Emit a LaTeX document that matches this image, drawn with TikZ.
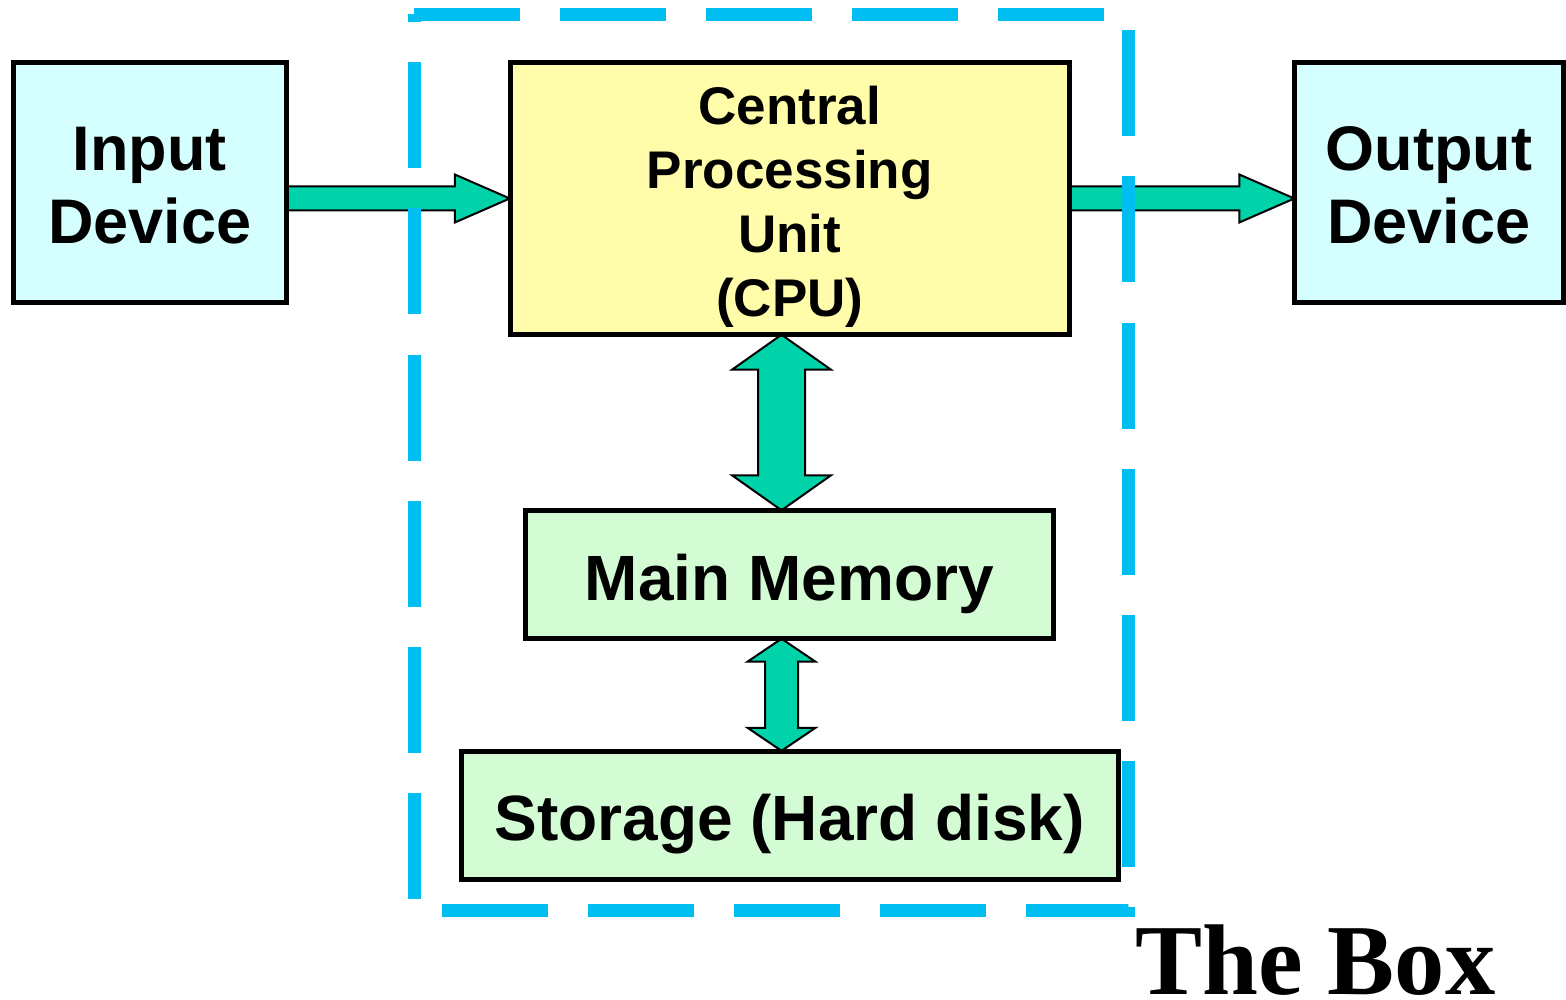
\documentclass[tikz,border=0pt]{standalone}
\usepackage{fontspec}
\setmainfont{Liberation Sans}
\newfontfamily\boxserif{Liberation Serif}
\usetikzlibrary{calc}
\definecolor{incyan}{RGB}{213,255,255}
\definecolor{cpuyellow}{RGB}{255,252,170}
\definecolor{memgreen}{RGB}{212,252,212}
\definecolor{arrowteal}{RGB}{0,210,170}
\definecolor{dashblue}{RGB}{0,190,242}
\tikzset{
  unitbox/.style={draw=black, line width=5pt, inner sep=0pt},
  boxtext/.style={inner sep=0pt, align=center},
  blockarrow/.style={fill=arrowteal, draw=black, line width=2pt, line join=miter},
  dashbox/.style={draw=dashblue, line width=13pt, dash pattern=on 106pt off 40pt, line cap=butt, line join=miter}
}
\newcommand\hblockarrow[5]{%
  \draw[blockarrow] ($(#1)+(0,-#5)$) -- ($(#2)+(-#3,-#5)$) -- ($(#2)+(-#3,-#4)$) -- (#2)
    -- ($(#2)+(-#3,#4)$) -- ($(#2)+(-#3,#5)$) -- ($(#1)+(0,#5)$) -- cycle;}
\newcommand\vblockarrow[5]{%
  \draw[blockarrow] (#1) -- ($(#1)+(#4,#3)$) -- ($(#1)+(#5,#3)$) -- ($(#2)+(#5,-#3)$)
    -- ($(#2)+(#4,-#3)$) -- (#2) -- ($(#2)+(-#4,-#3)$) -- ($(#2)+(-#5,-#3)$)
    -- ($(#1)+(-#5,#3)$) -- ($(#1)+(-#4,#3)$) -- cycle;}
\begin{document}
\begin{tikzpicture}[x=1pt,y=-1pt]
\useasboundingbox (0,0) rectangle (1566,1000);
% box geometry (anchors only)
\path node[minimum width=272.5pt, minimum height=240pt, inner sep=0pt] (in) at (149.75,182.5) {}
      node[minimum width=269pt, minimum height=240pt, inner sep=0pt] (out) at (1429,182.5) {}
      node[minimum width=559.5pt, minimum height=272pt, inner sep=0pt] (cpu) at (789.75,198.5) {}
      node[minimum width=528.5pt, minimum height=128pt, inner sep=0pt] (mem) at (789.25,574.5) {}
      node[minimum width=656.5pt, minimum height=128pt, inner sep=0pt] (sto) at (789.75,815) {};
% arrows
\coordinate (a1s) at (in.east |- cpu.west);
\coordinate (a2t) at (out.west |- cpu.east);
\hblockarrow{a1s}{cpu.west}{55}{24}{12}
\hblockarrow{cpu.east}{a2t}{55}{24}{12}
\coordinate (vx) at (781.5,0);
\coordinate (v1t) at (cpu.south -| vx);
\coordinate (v1b) at (mem.north -| vx);
\coordinate (v2t) at (mem.south -| vx);
\coordinate (v2b) at (sto.north -| vx);
\vblockarrow{v1t}{v1b}{35}{49.5}{23.5}
\vblockarrow{v2t}{v2b}{23}{34}{16.5}
% visible boxes
\node[unitbox, fill=incyan, minimum width=272.5pt, minimum height=240pt] (inbox) at (in) {};
\node[unitbox, fill=incyan, minimum width=269pt, minimum height=240pt] (outbox) at (out) {};
\node[unitbox, fill=cpuyellow, minimum width=559.5pt, minimum height=272pt] (cpubox) at (cpu) {};
\node[unitbox, fill=memgreen, minimum width=528.5pt, minimum height=128pt] (membox) at (mem) {};
\node[unitbox, fill=memgreen, minimum width=656.5pt, minimum height=128pt] (stobox) at (sto) {};
% texts
\node[boxtext, font=\bfseries\fontsize{63}{73}\selectfont, yshift=-3pt] (intext) at (in) {Input\\Device};
\node[boxtext, font=\bfseries\fontsize{63}{73}\selectfont, yshift=-3pt] (outtext) at (out) {Output\\Device};
\node[boxtext, font=\bfseries\fontsize{53}{64}\selectfont, yshift=-8pt] (cputext) at (cpu) {Central\\Processing\\Unit\\(CPU)};
\node[boxtext, font=\bfseries\fontsize{64}{74}\selectfont, yshift=-9pt] (memtext) at (mem) {Main Memory};
\node[boxtext, font=\bfseries\fontsize{64}{74}\selectfont, yshift=-9pt] (stotext) at (sto) {Storage (Hard disk)};
% dashed enclosure
\coordinate (dA) at (414,14.5);
\coordinate (dB) at (1128,14.5);
\coordinate (dC) at (1128,910.5);
\coordinate (dD) at (414,910.5);
\draw[dashbox] (dA) -- (dB) -- (dC) -- (dD) -- cycle;
\node[anchor=base west, inner sep=0pt, font=\boxserif\bfseries\fontsize{100.5}{100.5}\selectfont] (thebox) at (1135,994) {The Box};
\end{tikzpicture}
\end{document}
